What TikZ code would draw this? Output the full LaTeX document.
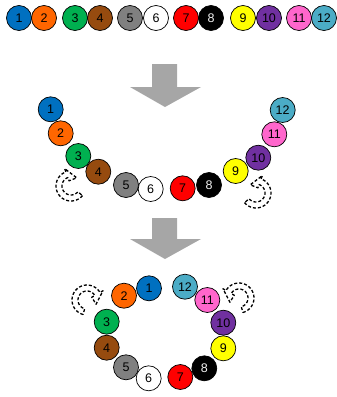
\documentclass[tikz,border=0pt]{standalone}
\usepackage{fontspec}
\setmainfont{Liberation Sans}
\definecolor{c1}{HTML}{0070C0}
\definecolor{c2}{HTML}{FF6600}
\definecolor{c3}{HTML}{00B050}
\definecolor{c4}{HTML}{964B0F}
\definecolor{c5}{HTML}{808080}
\definecolor{c6}{HTML}{FFFFFF}
\definecolor{c7}{HTML}{FF0000}
\definecolor{c8}{HTML}{000000}
\definecolor{c9}{HTML}{FFFF00}
\definecolor{c10}{HTML}{7030A0}
\definecolor{c11}{HTML}{FF66CC}
\definecolor{c12}{HTML}{4BACC6}
\definecolor{arrowgray}{HTML}{A6A6A6}
\tikzset{
  ball/.style={circle, draw=black, line width=0.7pt, minimum size=25pt, inner sep=0pt,
    font=\fontsize{12.5}{12.5}\selectfont},
  b1/.style={ball, fill=c1},
  b2/.style={ball, fill=c2},
  b3/.style={ball, fill=c3},
  b4/.style={ball, fill=c4},
  b5/.style={ball, fill=c5},
  b6/.style={ball, fill=c6},
  b7/.style={ball, fill=c7},
  b8/.style={ball, fill=c8, text=white!90!gray},
  b9/.style={ball, fill=c9},
  b10/.style={ball, fill=c10},
  b11/.style={ball, fill=c11},
  b12/.style={ball, fill=c12},
  bigarrow/.style={fill=arrowgray, draw=none},
  curvedash/.style={draw=black, line width=1.3pt, dash pattern=on 3pt off 2pt, line join=round}
}
% curved outline arrow: cx, cy, tail angle, head angle, mid radius, tip advance (signed)
\newcommand{\curvarrow}[6]{%
  \draw[curvedash]
    plot[domain=#3:#4, samples=30] ({#1+(#5+3)*cos(\x)},{#2+(#5+3)*sin(\x)})
    -- ({#1+(#5+6.5)*cos(#4)},{#2+(#5+6.5)*sin(#4)})
    -- ({#1+(#5-2)*cos(#4+#6)},{#2+(#5-2)*sin(#4+#6)})
    -- ({#1+(#5-6.5)*cos(#4)},{#2+(#5-6.5)*sin(#4)})
    -- ({#1+(#5-3)*cos(#4)},{#2+(#5-3)*sin(#4)})
    -- plot[domain=#4:#3, samples=30] ({#1+(#5-3)*cos(\x)},{#2+(#5-3)*sin(\x)})
    -- cycle;}
\begin{document}
\begin{tikzpicture}[x=1pt, y=-1pt]
\useasboundingbox (0,0) rectangle (337,397);
% top row
\node[b1]  (t1)  at (19,18)  {1};
\node[b2]  (t2)  at (44,18)  {2};
\node[b3]  (t3)  at (75,18)  {3};
\node[b4]  (t4)  at (100,18) {4};
\node[b5]  (t5)  at (130,18) {5};
\node[b6]  (t6)  at (156,18) {6};
\node[b7]  (t7)  at (186,18) {7};
\node[b8]  (t8)  at (211,18) {8};
\node[b9]  (t9)  at (243,18) {9};
\node[b10] (t10) at (269,18) {10};
\node[b11] (t11) at (299,18) {11};
\node[b12] (t12) at (324,18) {12};
% first big arrow
\fill[bigarrow] (152,64) -- (177,64) -- (177,87) -- (201,87) -- (165,107) -- (130,87) -- (152,87) -- cycle;
% middle row
\node[b1]  (m1)  at (50.7,109.3) {1};
\node[b2]  (m2)  at (60.7,133.3) {2};
\node[b3]  (m3)  at (78.3,156)   {3};
\node[b4]  (m4)  at (98.3,171.7) {4};
\node[b5]  (m5)  at (126,185)    {5};
\node[b6]  (m6)  at (150.7,189)  {6};
\node[b7]  (m7)  at (182.7,188.3){7};
\node[b8]  (m8)  at (209,185)    {8};
\node[b9]  (m9)  at (235.7,171)  {9};
\node[b10] (m10) at (258.3,157.7){10};
\node[b11] (m11) at (274.3,134.3){11};
\node[b12] (m12) at (282.7,110)  {12};
\curvarrow{71}{186}{40}{250}{12}{55}
\curvarrow{256}{193}{140}{-70}{12}{-55}
% second big arrow
\fill[bigarrow] (152,218) -- (177,218) -- (177,239) -- (201,239) -- (165,259) -- (130,239) -- (152,239) -- cycle;
% bottom ring
\node[b1]  (r1)  at (149,288.3)   {1};
\node[b2]  (r2)  at (124,295.7)   {2};
\node[b3]  (r3)  at (106.7,321.7) {3};
\node[b4]  (r4)  at (106.7,347.7) {4};
\node[b5]  (r5)  at (126,367.3)   {5};
\node[b6]  (r6)  at (148.7,378.3) {6};
\node[b7]  (r7)  at (180.3,377)   {7};
\node[b8]  (r8)  at (204.3,368.3) {8};
\node[b9]  (r9)  at (223.3,348.3) {9};
\node[b10] (r10) at (223.3,322.7) {10};
\node[b11] (r11) at (207.3,300)   {11};
\node[b12] (r12) at (185,286.7)   {12};
\curvarrow{87}{300}{105}{330}{12}{55}
\curvarrow{239}{298}{75}{-150}{12}{-55}
\end{tikzpicture}
\end{document}
